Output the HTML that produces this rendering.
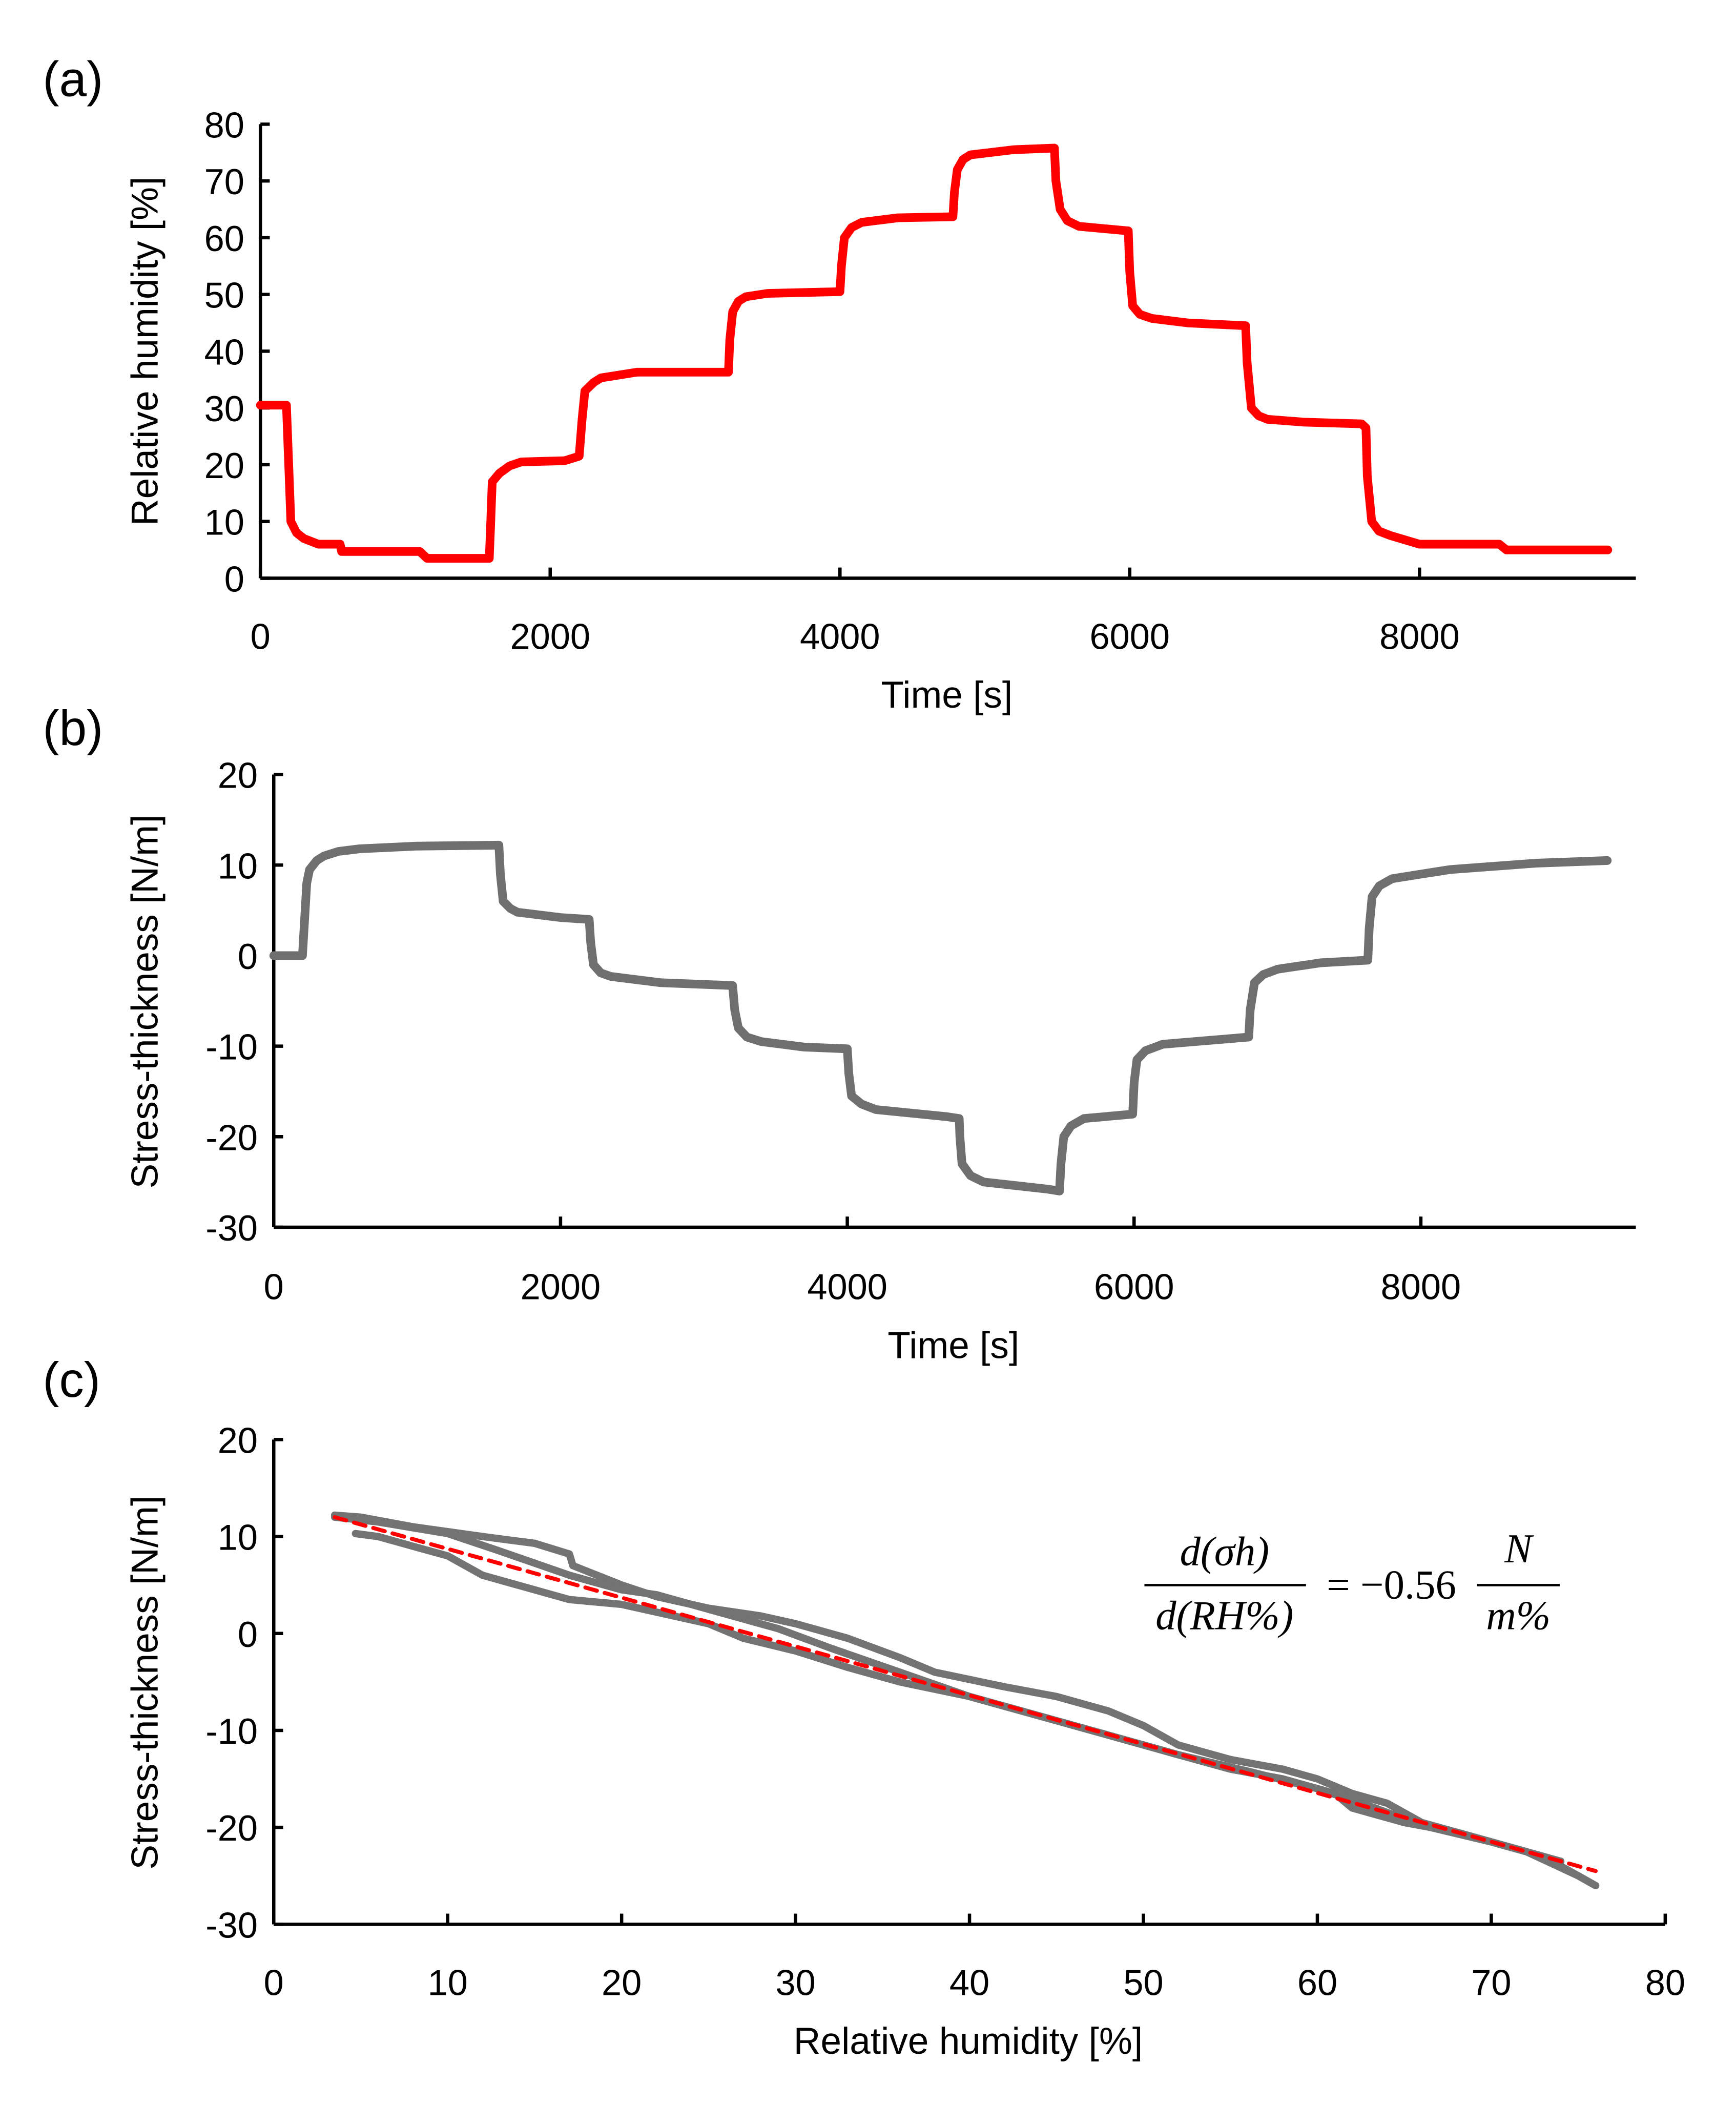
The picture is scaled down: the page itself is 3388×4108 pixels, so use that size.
<!DOCTYPE html>
<html><head><meta charset="utf-8">
<style>
html,body{margin:0;padding:0;background:#fff;}
svg{display:block;font-family:"Liberation Sans",sans-serif;}
</style></head>
<body>
<svg id="fig" width="3388" height="4108" viewBox="0 0 1300 1576.3" preserveAspectRatio="none" xmlns="http://www.w3.org/2000/svg"></svg>
<script>
// Panel (a) data
const timeA = [0,180,195,210,250,300,400,550,560,1100,1150,1580,1590,1600,1650,1720,1800,2100,2200,2220,2240,2300,2350,2600,3230,3240,3260,3300,3350,3500,4000,4010,4030,4080,4150,4400,4780,4790,4810,4850,4900,5200,5480,5490,5520,5570,5650,5990,6000,6020,6070,6150,6400,6800,6810,6840,6890,6950,7200,7600,7630,7640,7670,7720,7800,8000,8550,8600,9300];
const rhA   = [30.5,30.5,20,10,8,7,6,6,4.7,4.7,3.5,3.5,10,17,18.5,19.8,20.5,20.7,21.5,28,33,34.5,35.3,36.3,36.3,42,47,48.8,49.6,50.2,50.5,55,60,61.8,62.7,63.5,63.7,68,72,73.8,74.6,75.5,75.8,70,65,63,62,61.2,54,48,46.5,45.8,45,44.5,38,30,28.6,28,27.5,27.2,26.5,18,10,8.3,7.5,6,6,5,5];
// Panel (b) data
const timeB = [0,200,215,230,250,300,350,450,600,1000,1570,1580,1600,1650,1700,2000,2200,2210,2230,2280,2350,2700,3200,3215,3240,3300,3400,3700,4000,4010,4030,4100,4200,4700,4780,4785,4800,4860,4950,5400,5480,5490,5510,5560,5650,5990,6000,6020,6080,6200,6800,6810,6840,6900,7000,7300,7630,7640,7660,7710,7800,8200,8800,9300];
const stB   = [0,0,4,8,9.5,10.5,11,11.5,11.8,12.1,12.2,9,6,5.2,4.8,4.2,4,1.5,-1,-1.9,-2.3,-3,-3.3,-6,-8,-9,-9.5,-10.1,-10.3,-13,-15.5,-16.4,-17,-17.8,-18,-20,-23,-24.3,-25,-25.8,-26,-23,-20,-18.8,-18,-17.5,-14,-11.5,-10.5,-9.8,-9,-6,-3,-2.1,-1.5,-0.8,-0.5,3,6.5,7.7,8.5,9.5,10.2,10.5];
// Panel (c) data
const rhUpper = [3.5,5,8,12,15,17,17.2,20,22,25,28,30,33,36,38,42,45,48,50,52,55,58,60,62,64,66,70,73,75,76];
const stUpper = [12.2,12,11,10,9.3,8.2,7,5,3.8,2.6,1.8,1,-0.5,-2.5,-4,-5.5,-6.5,-8,-9.5,-11.5,-13,-14,-15,-16.5,-17.5,-19.5,-21.5,-23,-25,-26];
const rhLower = [4.7,6,8,10,12,14,17,20,25,27,30,33,36,40,44,47,50,52,55,58,61,62,65,68,72,75,76];
const stLower = [10.3,10,9,8,6,5,3.5,3,1,-0.5,-1.8,-3.5,-5,-6.5,-8.5,-10,-11.5,-12.5,-14,-15,-16.5,-18,-19.5,-20.5,-22.5,-25,-26];
const rhMid = [3.5,6,10,13,17,20,22,26,29,32,36,40,44,48,52,56,60,63,66,70,74];
const stMid = [12,11.5,10.3,8.5,6,4.5,4,2,0.5,-1.5,-4,-6.5,-8.5,-10.5,-12.5,-14.2,-16,-17.8,-19.8,-21.5,-23.5];
const fitX = [3.5,76];
const fitY = [12,-24.5];
const ticksA_y = [0,10,20,30,40,50,60,70,80];
const ticksA_x = [0,2000,4000,6000,8000];
const ticksB_y = [-30,-20,-10,0,10,20];
const ticksB_x = [0,2000,4000,6000,8000];
const ticksC_y = [-30,-20,-10,0,10,20];
const ticksC_x = [0,10,20,30,40,50,60,70,80];

const NS="http://www.w3.org/2000/svg";
const svg=document.getElementById('fig');
function mk(tag,attrs,parent){const e=document.createElementNS(NS,tag);for(const k in attrs)e.setAttribute(k,attrs[k]);(parent||svg).appendChild(e);return e;}
function txt(s,x,y,attrs,parent){const e=mk('text',Object.assign({x:x,y:y},attrs),parent);e.textContent=s;return e;}
function lin(d0,d1,r0,r1){return v=>r0+(v-d0)*(r1-r0)/(d1-d0);}

function panel(cfg){
  const g=mk('g',{});
  
  
  const X=lin(cfg.xd[0],cfg.xd[1],cfg.xr[0],cfg.xr[1]);
  const Y=lin(cfg.yd[0],cfg.yd[1],cfg.yr[0],cfg.yr[1]);
  const ax=cfg.xr[0], ay=cfg.yr[0];
  const yAx=mk('line',{x1:ax,y1:cfg.yr[1],x2:ax,y2:ay,stroke:'#000','stroke-width':2.5},g);
  
  
  const xAx=mk('line',{x1:ax,y1:ay,x2:cfg.xEnd,y2:ay,stroke:'#000','stroke-width':2.5},g);
  
  
  cfg.yt.forEach(v=>{
    const t=mk('line',{x1:ax,y1:Y(v),x2:ax+7,y2:Y(v),stroke:'#000','stroke-width':2.5},g);
    
    
    const l=txt(String(v),ax-12,Y(v)+10,{'font-size':27,'text-anchor':'end',fill:'#000'},g);
    
    
  });
  cfg.xt.forEach(v=>{
    const t=mk('line',{x1:X(v),y1:ay,x2:X(v),y2:ay-8,stroke:'#000','stroke-width':2.5},g);
    
    
    const l=txt(String(v),X(v),cfg.xLabY,{'font-size':27,'text-anchor':'middle',fill:'#000'},g);
    
    
  });
  const xt=txt(cfg.xTitle,cfg.xTitlePos[0],cfg.xTitlePos[1],{'font-size':28,'text-anchor':'middle'},g);
  
  
  const yt=txt(cfg.yTitle,0,0,{'font-size':28,'text-anchor':'middle',transform:`translate(${cfg.yTitlePos[0]},${cfg.yTitlePos[1]}) rotate(-90)`},g);
  
  
  const pl=txt(cfg.label,32,cfg.labelY,{'font-size':37},g);
  
  
  return {g,X,Y};
}
function series(p,xs,ys,color,w,name,dash){
  const pts=xs.map((x,i)=>p.X(x).toFixed(1)+','+p.Y(ys[i]).toFixed(1)).join(' ');
  const a={points:pts,fill:'none',stroke:color,'stroke-width':w,'stroke-linejoin':'round','stroke-linecap':'round'};
  if(dash)a['stroke-dasharray']=dash;
  const e=mk('polyline',a,p.g);
  
  
  return e;
}

const pa=panel({name:'panel-a-humidity-vs-time',xd:[0,8000],xr:[195,1063],yd:[0,80],yr:[433,93],xEnd:1225,
  yt:ticksA_y,xt:ticksA_x,xLabY:486,xTitle:'Time [s]',xTitlePos:[709,530],yTitle:'Relative humidity [%]',yTitlePos:[118,263],label:'(a)',labelY:72});
series(pa,timeA,rhA,'#ff0000',6.5,'humidity-series');

const pb=panel({name:'panel-b-stress-vs-time',xd:[0,8000],xr:[205,1064],yd:[-30,20],yr:[919,580],xEnd:1225,
  yt:ticksB_y,xt:ticksB_x,xLabY:973,xTitle:'Time [s]',xTitlePos:[714,1017],yTitle:'Stress-thickness [N/m]',yTitlePos:[118,750],label:'(b)',labelY:558});
series(pb,timeB,stB,'#6f6f6f',6.5,'stress-series');

const pc=panel({name:'panel-c-stress-vs-humidity',xd:[0,80],xr:[205,1247],yd:[-30,20],yr:[1441,1078],xEnd:1247,
  yt:ticksC_y,xt:ticksC_x,xLabY:1494,xTitle:'Relative humidity [%]',xTitlePos:[725,1538],yTitle:'Stress-thickness [N/m]',yTitlePos:[118,1260],label:'(c)',labelY:1046});
series(pc,rhUpper,stUpper,'#737373',5.5,'hysteresis-upper-branch');
series(pc,rhLower,stLower,'#737373',5.5,'hysteresis-lower-branch');
series(pc,rhMid,stMid,'#737373',5.5,'hysteresis-middle-branch');
series(pc,fitX,fitY,'#ff0000',3,'linear-fit-line','9,6');

// equation
const eq=mk('g',{'font-family':'"Liberation Serif",serif','font-style':'italic','font-size':31},pc.g);


txt('d(σh)',917,1172,{'text-anchor':'middle'},eq);
mk('line',{x1:857,y1:1187,x2:978,y2:1187,stroke:'#000','stroke-width':1.8},eq);
txt('d(RH%)',917,1220,{'text-anchor':'middle'},eq);
txt('= −0.56',1042,1197,{'text-anchor':'middle','font-style':'normal'},eq);
txt('N',1137,1170,{'text-anchor':'middle'},eq);
mk('line',{x1:1106,y1:1187,x2:1168,y2:1187,stroke:'#000','stroke-width':1.8},eq);
txt('m%',1137,1220,{'text-anchor':'middle'},eq);
</script>
</body></html>
